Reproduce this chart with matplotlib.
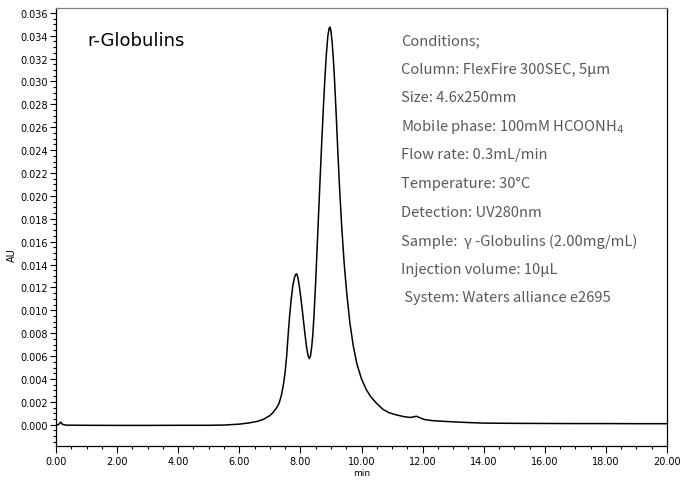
import matplotlib
matplotlib.use("Agg")
import matplotlib.pyplot as plt
from matplotlib.ticker import MultipleLocator, FormatStrFormatter

# chromatogram (time in min, absorbance in AU)
time_min = [0.00, 0.08, 0.15, 0.22, 0.35, 1.0, 2.0, 3.0, 4.0, 5.0, 5.5, 6.0, 6.3, 6.6, 6.8,
            7.0, 7.1, 7.2, 7.3, 7.38, 7.45, 7.5, 7.55, 7.6, 7.65, 7.7, 7.75, 7.8, 7.84, 7.88,
            7.92, 7.96, 8.0, 8.05, 8.1, 8.15, 8.2, 8.25, 8.29, 8.33, 8.37, 8.41, 8.45, 8.5,
            8.55, 8.6, 8.65, 8.7, 8.75, 8.8, 8.85, 8.9, 8.94, 8.97, 9.0, 9.04, 9.08, 9.12,
            9.17, 9.22, 9.28, 9.35, 9.43, 9.52, 9.62, 9.73, 9.85, 10.0, 10.15, 10.3, 10.5,
            10.7, 10.9, 11.15, 11.4, 11.6, 11.72, 11.8, 11.9, 12.05, 12.3, 12.6, 13.0, 13.5,
            14.0, 15.0, 16.0, 17.0, 18.0, 19.0, 20.0]
absorbance = [0.0000, 0.0000, 0.00022, 0.00002, -0.00004, -0.00005, -0.00006, -0.00006,
              -0.00005, -0.00005, -0.00003, 0.00005, 0.00015, 0.00030, 0.00048,
              0.00080, 0.00105, 0.00140, 0.00185, 0.00260, 0.00360, 0.00460, 0.00600,
              0.00790, 0.00960, 0.01100, 0.01210, 0.01280, 0.01312, 0.01318,
              0.01285, 0.01220, 0.01140, 0.01030, 0.00910, 0.00790, 0.00680, 0.00605,
              0.00578, 0.00600, 0.00680, 0.00800, 0.00980, 0.01250,
              0.01560, 0.01870, 0.02180, 0.02480, 0.02760, 0.03020, 0.03240, 0.03400,
              0.03465, 0.03475, 0.03440, 0.03340, 0.03190, 0.03000,
              0.02720, 0.02420, 0.02080, 0.01740, 0.01420, 0.01140, 0.00890, 0.00690,
              0.00530, 0.00400, 0.00310, 0.00245, 0.00185,
              0.00135, 0.00105, 0.00085, 0.00070, 0.00063, 0.00070, 0.00074, 0.00062,
              0.00046, 0.00036, 0.00031, 0.00025, 0.00019,
              0.00014, 0.00012, 0.00011, 0.00010, 0.00010, 0.00009, 0.00009]

title = "r-Globulins"
conditions = [
    "Conditions;",
    "Column: FlexFire 300SEC, 5µm",
    "Size: 4.6x250mm",
    "Mobile phase: 100mM HCOONH$_4$",
    "Flow rate: 0.3mL/min",
    "Temperature: 30°C",
    "Detection: UV280nm",
    "Sample:  γ -Globulins (2.00mg/mL)",
    "Injection volume: 10µL",
    " System: Waters alliance e2695",
]

fig = plt.figure(figsize=(6.87, 4.81), dpi=100)
ax = fig.add_axes([56 / 687, 1 - 447 / 481, 611 / 687, 438 / 481])

ax.plot(time_min, absorbance, color="black", lw=1.1)

ax.set_xlim(0, 20)
ax.set_ylim(-0.00186, 0.03642)

ax.xaxis.set_major_locator(MultipleLocator(2))
ax.xaxis.set_minor_locator(MultipleLocator(0.5))
ax.yaxis.set_major_locator(MultipleLocator(0.002))
ax.yaxis.set_minor_locator(MultipleLocator(0.0005))
ax.xaxis.set_major_formatter(FormatStrFormatter("%.2f"))
ax.yaxis.set_major_formatter(FormatStrFormatter("%.3f"))
ax.tick_params(which="major", direction="out", length=4, width=0.8, labelsize=7, pad=2)
ax.tick_params(which="minor", direction="out", length=2.5, width=0.8)
ax.tick_params(axis="x", which="major", length=5)

for s in ["left", "bottom", "right"]:
    ax.spines[s].set_color("black")
    ax.spines[s].set_linewidth(0.9)
ax.spines["top"].set_color("#808080")
ax.spines["top"].set_linewidth(0.9)

fig.text(12 / 687, 1 - 255 / 481, "AU", rotation=90, ha="center", va="center", fontsize=7)
fig.text(362 / 687, 1 - 474 / 481, "min", ha="center", va="center", fontsize=6.5)

ax.text(0.052, 0.927, title, transform=ax.transAxes, fontsize=13, ha="left", va="center")

for i, line in enumerate(conditions):
    ax.text(401 / 687, 1 - (41 + i * 28.6) / 481, line, transform=fig.transFigure,
            ha="left", va="center", fontsize=10.6, color="#595959",
            family=["Noto Sans CJK JP", "DejaVu Sans"])

fig.savefig("out.png", dpi=100)
